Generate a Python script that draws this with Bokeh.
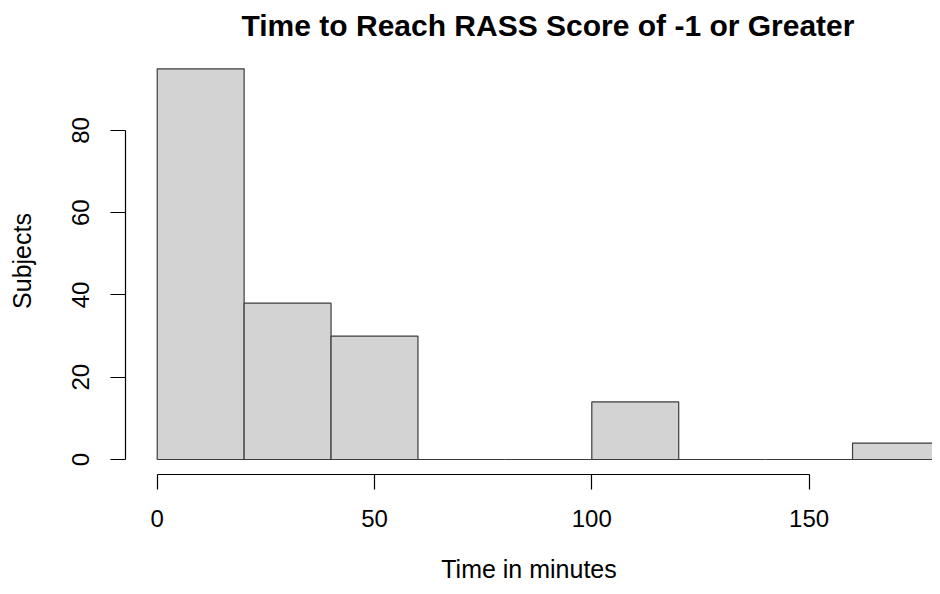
from bokeh.plotting import figure
from bokeh.models import Range1d, FixedTicker
from bokeh.embed import file_html
from bokeh.resources import INLINE

# Histogram data (bins of 20 minutes)
bin_left = [0, 20, 40, 60, 80, 100, 120, 140, 160]
bin_right = [20, 40, 60, 80, 100, 120, 140, 160, 180]
counts = [95, 38, 30, 0, 0, 14, 0, 0, 4]
x_ticks = [0, 50, 100, 150]
y_ticks = [0, 20, 40, 60, 80]

TITLE = "Time to Reach RASS Score of -1 or Greater"
X_LABEL = "Time in minutes"
Y_LABEL = "Subjects"

FONT = "Liberation Sans"

p = figure(width=932, height=586, output_backend="svg", toolbar_location=None,
           x_range=Range1d(-7.3, 178.4), y_range=Range1d(-3.65, 100.18),
           min_border_left=125, min_border_right=0, min_border_top=47, min_border_bottom=112)

p.quad(left=bin_left, right=bin_right, bottom=0, top=counts,
       fill_color="#d3d3d3", line_color="#3c3c3c", line_width=1.2)

p.grid.visible = False
p.outline_line_color = None
p.background_fill_color = "white"
p.border_fill_color = "white"

p.title.text = TITLE
p.title.align = "left"
p.title.offset = 116
p.title.standoff = 11
p.title.text_font = FONT
p.title.text_font_size = "30px"
p.title.text_font_style = "bold"
p.title.text_color = "black"

for ax, ticks, b in ((p.xaxis[0], x_ticks, (0, 150)), (p.yaxis[0], y_ticks, (0, 80))):
    ax.ticker = FixedTicker(ticks=ticks)
    ax.bounds = b
    ax.axis_line_color = "black"
    ax.axis_line_width = 1.2
    ax.major_tick_line_color = "black"
    ax.major_tick_line_width = 1.2
    ax.major_tick_out = 15
    ax.major_tick_in = 0
    ax.minor_tick_line_color = None
    ax.major_label_text_font = FONT
    ax.major_label_text_font_size = "24px"
    ax.major_label_text_color = "black"
    ax.axis_label_text_font = FONT
    ax.axis_label_text_font_size = "25px"
    ax.axis_label_text_font_style = "normal"
    ax.axis_label_text_color = "black"

p.xaxis.axis_label = X_LABEL
p.yaxis.axis_label = Y_LABEL
p.xaxis.major_label_standoff = 20
p.yaxis.major_label_standoff = 21
p.xaxis.axis_label_standoff = 25
p.yaxis.axis_label_standoff = 34
p.yaxis.major_label_orientation = "vertical"

open("out.html", "w").write(file_html(p, INLINE))
